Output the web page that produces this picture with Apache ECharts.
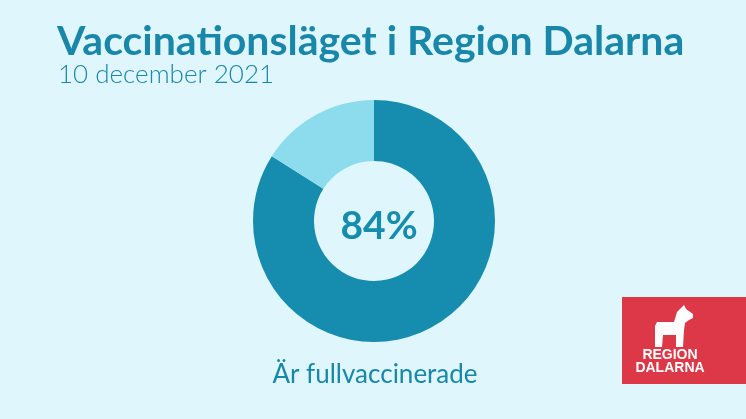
<!DOCTYPE html>
<html><head><meta charset="utf-8">
<script src="https://cdn.jsdelivr.net/npm/echarts@6/dist/echarts.min.js"></script>
<style>html,body{margin:0;padding:0;background:#dff6fc}#c{width:746px;height:419px}</style>
</head><body><div id="c"></div>
<script>
const categories = ['Fullvaccinerade', 'Övriga'];
const values = [84, 16];
const titleText = 'Vaccinationsläget i Region Dalarna';
const subtitleText = '10 december 2021';
const centerLabel = '84%';
const bottomLabel = 'Är fullvaccinerade';
const logoText = 'REGION\nDALARNA';

const chart = echarts.init(document.getElementById('c'));
chart.setOption({
  backgroundColor: '#dff6fc',
  animation: false,
  title: [
    {text: titleText, left: 52, top: 16, textStyle: {fontFamily: 'Lato', fontWeight: 'bold', fontSize: 41, color: '#1887a9'}},
    {text: subtitleText, left: 53, top: 57, textStyle: {fontFamily: 'Lato', fontWeight: 300, fontSize: 26, color: '#1887a9'}},
    {text: centerLabel, left: 374, top: 221, textAlign: 'center', textVerticalAlign: 'middle', textStyle: {fontFamily: 'Lato', fontWeight: 'bold', fontSize: 39, color: '#168cae'}},
    {text: bottomLabel, left: 370, top: 357, textAlign: 'center', textStyle: {fontFamily: 'Lato', fontWeight: 'normal', fontSize: 26, color: '#1887a9'}}
  ],
  series: [{
    type: 'pie',
    center: [374, 221],
    radius: [60, 121],
    startAngle: 90,
    clockwise: true,
    label: {show: false},
    labelLine: {show: false},
    silent: true,
    data: categories.map((c, i) => ({name: c, value: values[i], itemStyle: {color: i === 0 ? '#168cae' : '#8ddced'}}))
  }],
  graphic: [
    {type: 'rect', shape: {x: 622, y: 297, width: 124, height: 87}, style: {fill: '#dc3848'}},
    {type: 'polygon', shape: {points: [[657,322],[655,326],[655,347],[662,347],[663,335],[676,335],[676,347],[683,347],[684,330],[685,323],[689,320],[693,318],[693,314],[686,309],[684,305],[681,308],[677,312],[674,322]]}, style: {fill: '#ffffff'}},
    {type: 'text', style: {text: logoText, x: 670, y: 362, align: 'center', verticalAlign: 'middle', fontFamily: 'Liberation Sans', fontWeight: 'bold', fontSize: 14, lineHeight: 13, fill: '#ffffff'}}
  ]
});
</script></body></html>
